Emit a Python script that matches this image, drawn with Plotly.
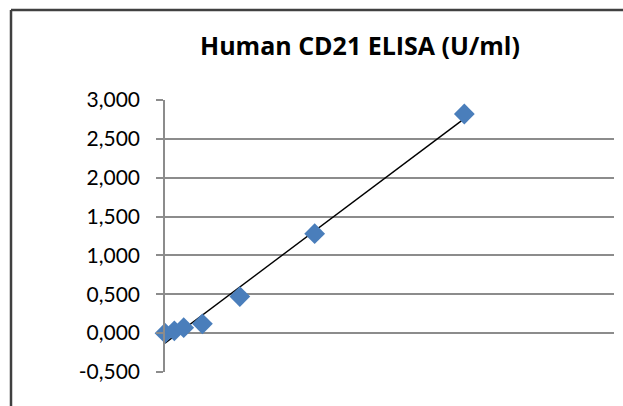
import numpy as np
import plotly.graph_objects as go

# Data
concentration = [0, 1.25, 2.5, 5, 10, 20, 40]
od_values = [0.0, 0.03, 0.07, 0.12, 0.47, 1.28, 2.82]
y_tick_vals = [-0.5, 0.0, 0.5, 1.0, 1.5, 2.0, 2.5, 3.0]
y_tick_text = ["-0,500", "0,000", "0,500", "1,000", "1,500", "2,000", "2,500", "3,000"]
title_text = "Human CD21 ELISA (U/ml)"

# Linear trendline (least squares) from the data
slope, intercept = np.polyfit(concentration, od_values, 1)
trend_x = [min(concentration), max(concentration)]
trend_y = [slope * v + intercept for v in trend_x]

W, H = 623, 406
L, R, T, B = 165, 9, 100, 34
PW, PH = W - L - R, H - T - B

fig = go.Figure()
fig.add_trace(go.Scatter(
    x=trend_x, y=trend_y, mode="lines",
    line=dict(color="#000000", width=1.4),
    hoverinfo="skip", showlegend=False, cliponaxis=False,
))
fig.add_trace(go.Scatter(
    x=concentration, y=od_values, mode="markers",
    marker=dict(symbol="diamond", size=16, color="#4a7ebb", line=dict(width=0)),
    showlegend=False, cliponaxis=False,
))

fig.update_layout(
    width=W, height=H,
    margin=dict(l=L, r=R, t=T, b=B, pad=0),
    paper_bgcolor="white", plot_bgcolor="white",
    font=dict(family="Lato", color="#000000"),
    title=dict(
        text="<b>" + title_text + "</b>",
        font=dict(family="Open Sans", size=25, color="#000000"),
        x=(360 - L) / PW, xref="paper", xanchor="center",
        y=1 - 46 / H, yref="container", yanchor="middle",
    ),
    xaxis=dict(
        range=[0, 60], showgrid=False, zeroline=False,
        showticklabels=False, ticks="", showline=False,
    ),
    yaxis=dict(
        range=[-0.5, 3.0], tickvals=y_tick_vals, ticktext=y_tick_text,
        showgrid=True, gridcolor="#8c8c8c", gridwidth=1.5,
        zeroline=False, showline=True, linecolor="#8c8c8c", linewidth=1.5,
        ticks="outside", ticklen=7, tickcolor="#8c8c8c", tickwidth=1.5,
        ticklabelstandoff=12,
        tickfont=dict(family="Lato", size=21, color="#000000"),
    ),
    shapes=[
        dict(type="line", xref="paper", yref="paper",
             x0=(11 - L) / PW, x1=(W + 20 - L) / PW,
             y0=(H - B - 10) / PH, y1=(H - B - 10) / PH,
             line=dict(color="#404040", width=2.5)),
        dict(type="line", xref="paper", yref="paper",
             x0=(11 - L) / PW, x1=(11 - L) / PW,
             y0=(H - B - 10) / PH, y1=-(B + 20) / PH,
             line=dict(color="#404040", width=2.5)),
    ],
)

fig.write_html(
    "out.html",
    config={"displayModeBar": False},
    post_script="document.body.style.margin='0';document.body.style.overflow='hidden';",
)
